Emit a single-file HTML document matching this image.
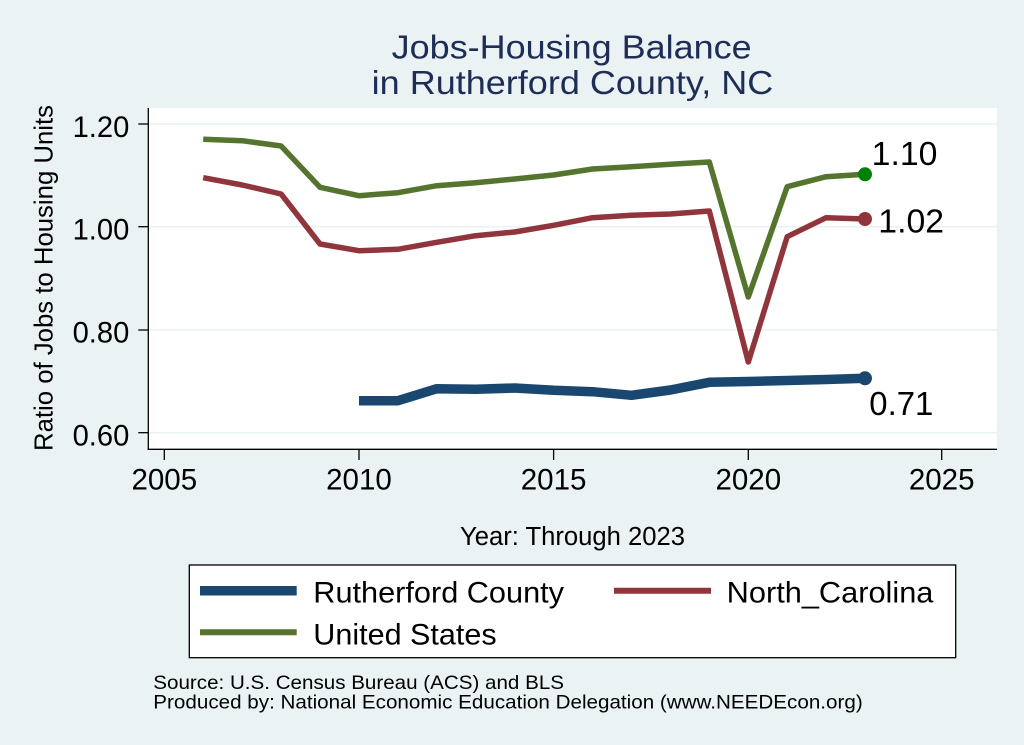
<!DOCTYPE html>
<html><head><meta charset="utf-8"><style>
html,body{margin:0;padding:0;background:#eaf2f3;}
svg{display:block;}
text{font-family:"Liberation Sans",Arial,sans-serif;fill:#000;}
</style></head><body>
<svg width="1024" height="745" viewBox="0 0 1024 745" xmlns="http://www.w3.org/2000/svg">
<rect x="0" y="0" width="1024" height="745" fill="#eaf2f3"/>
<!-- title -->
<text x="391.7" y="58.4" font-size="33.5" fill="#1e2d56" style="fill:#1e2d56" textLength="360" lengthAdjust="spacingAndGlyphs">Jobs-Housing Balance</text>
<text x="371.7" y="94" font-size="33.5" style="fill:#1e2d56" textLength="401.6" lengthAdjust="spacingAndGlyphs">in Rutherford County, NC</text>
<!-- plot region -->
<rect x="148.3" y="108" width="848.7" height="341.3" fill="#ffffff"/>
<g stroke="#eaf2f3" stroke-width="1.6">
<line x1="148.3" y1="124" x2="997" y2="124"/>
<line x1="148.3" y1="226.7" x2="997" y2="226.7"/>
<line x1="148.3" y1="330" x2="997" y2="330"/>
<line x1="148.3" y1="432.7" x2="997" y2="432.7"/>
</g>
<!-- axes -->
<g stroke="#000" stroke-width="1.3" fill="none">
<line x1="148.3" y1="108" x2="148.3" y2="450"/>
<line x1="147.7" y1="449.3" x2="997" y2="449.3"/>
<line x1="138.3" y1="124" x2="148.3" y2="124"/>
<line x1="138.3" y1="226.7" x2="148.3" y2="226.7"/>
<line x1="138.3" y1="330" x2="148.3" y2="330"/>
<line x1="138.3" y1="432.7" x2="148.3" y2="432.7"/>
<line x1="164.3" y1="449.3" x2="164.3" y2="460"/>
<line x1="359" y1="449.3" x2="359" y2="460"/>
<line x1="553.6" y1="449.3" x2="553.6" y2="460"/>
<line x1="748.3" y1="449.3" x2="748.3" y2="460"/>
<line x1="941.7" y1="449.3" x2="941.7" y2="460"/>
</g>
<!-- y tick labels -->
<g font-size="29.5" text-anchor="end">
<text x="129.3" y="136.8" textLength="56.7" lengthAdjust="spacingAndGlyphs">1.20</text>
<text x="129.3" y="239.4" textLength="56.7" lengthAdjust="spacingAndGlyphs">1.00</text>
<text x="129.3" y="342.7" textLength="56.7" lengthAdjust="spacingAndGlyphs">0.80</text>
<text x="129.3" y="445.7" textLength="56.7" lengthAdjust="spacingAndGlyphs">0.60</text>
</g>
<!-- x tick labels -->
<g font-size="29.5" text-anchor="middle">
<text x="164.3" y="489.3" textLength="65.7" lengthAdjust="spacingAndGlyphs">2005</text>
<text x="359" y="489.3" textLength="65.7" lengthAdjust="spacingAndGlyphs">2010</text>
<text x="553.6" y="489.3" textLength="65.7" lengthAdjust="spacingAndGlyphs">2015</text>
<text x="748.3" y="489.3" textLength="65.7" lengthAdjust="spacingAndGlyphs">2020</text>
<text x="941.7" y="489.3" textLength="65.7" lengthAdjust="spacingAndGlyphs">2025</text>
</g>
<!-- axis titles -->
<text transform="translate(52.3,278) rotate(-90)" font-size="26" text-anchor="middle" textLength="346" lengthAdjust="spacingAndGlyphs">Ratio of Jobs to Housing Units</text>
<text x="460" y="545" font-size="25.5" textLength="225" lengthAdjust="spacingAndGlyphs">Year: Through 2023</text>
<!-- series -->
<g fill="none" stroke-linejoin="round" stroke-linecap="butt">
<polyline stroke="#55752f" stroke-width="5.5" points="203.2,139.3 242.2,140.7 281.1,146 320,187.3 359,195.7 397.9,192.7 436.8,185.7 475.7,182.7 514.7,179 553.6,175 592.5,169 631.5,166.7 670.4,164.3 709.3,162 748.3,297 787.2,186.7 826.1,176.7 865,174.3"/>
<polyline stroke="#90353b" stroke-width="5.5" points="203.2,177.7 242.2,185 281.1,194 320,244 359,250.7 397.9,249.3 436.8,242.3 475.7,235.7 514.7,232 553.6,225.3 592.5,217.7 631.5,215.3 670.4,214 709.3,211 748.3,362 787.2,236.7 826.1,217.7 865,219"/>
<polyline stroke="#1a476f" stroke-width="9.5" points="359,400.7 397.9,400.7 436.8,388.7 475.7,389.3 514.7,388 553.6,390.3 592.5,391.7 631.5,395.3 670.4,390 709.3,382.3 748.3,381.5 787.2,380.5 826.1,379.5 865,378.3"/>
</g>
<circle cx="865" cy="174.3" r="7" fill="#008000"/>
<circle cx="865" cy="219" r="7" fill="#90353b"/>
<circle cx="865" cy="378.3" r="7" fill="#1a476f"/>
<g font-size="33">
<text x="871.7" y="165" textLength="65.7" lengthAdjust="spacingAndGlyphs">1.10</text>
<text x="878.3" y="232.7" textLength="65.7" lengthAdjust="spacingAndGlyphs">1.02</text>
<text x="869.3" y="415" textLength="64" lengthAdjust="spacingAndGlyphs">0.71</text>
</g>
<!-- legend -->
<rect x="189.3" y="565" width="766.4" height="92.7" fill="#ffffff" stroke="#000" stroke-width="1.3"/>
<line x1="200" y1="590.7" x2="296.7" y2="590.7" stroke="#1a476f" stroke-width="9.5"/>
<line x1="614" y1="590.7" x2="711" y2="590.7" stroke="#90353b" stroke-width="6"/>
<line x1="200" y1="632.3" x2="296.7" y2="632.3" stroke="#55752f" stroke-width="6"/>
<g font-size="29.5">
<text x="313.3" y="602.7" textLength="250.7" lengthAdjust="spacingAndGlyphs">Rutherford County</text>
<text x="726.7" y="602.7" textLength="206.7" lengthAdjust="spacingAndGlyphs">North_Carolina</text>
<text x="313.3" y="644.3" textLength="183.3" lengthAdjust="spacingAndGlyphs">United States</text>
</g>
<!-- footer -->
<g font-size="19.5">
<text x="153.3" y="689" textLength="410.7" lengthAdjust="spacingAndGlyphs">Source: U.S. Census Bureau (ACS) and BLS</text>
<text x="153.3" y="708.3" textLength="709.4" lengthAdjust="spacingAndGlyphs">Produced by: National Economic Education Delegation (www.NEEDEcon.org)</text>
</g>
</svg>
</body></html>
